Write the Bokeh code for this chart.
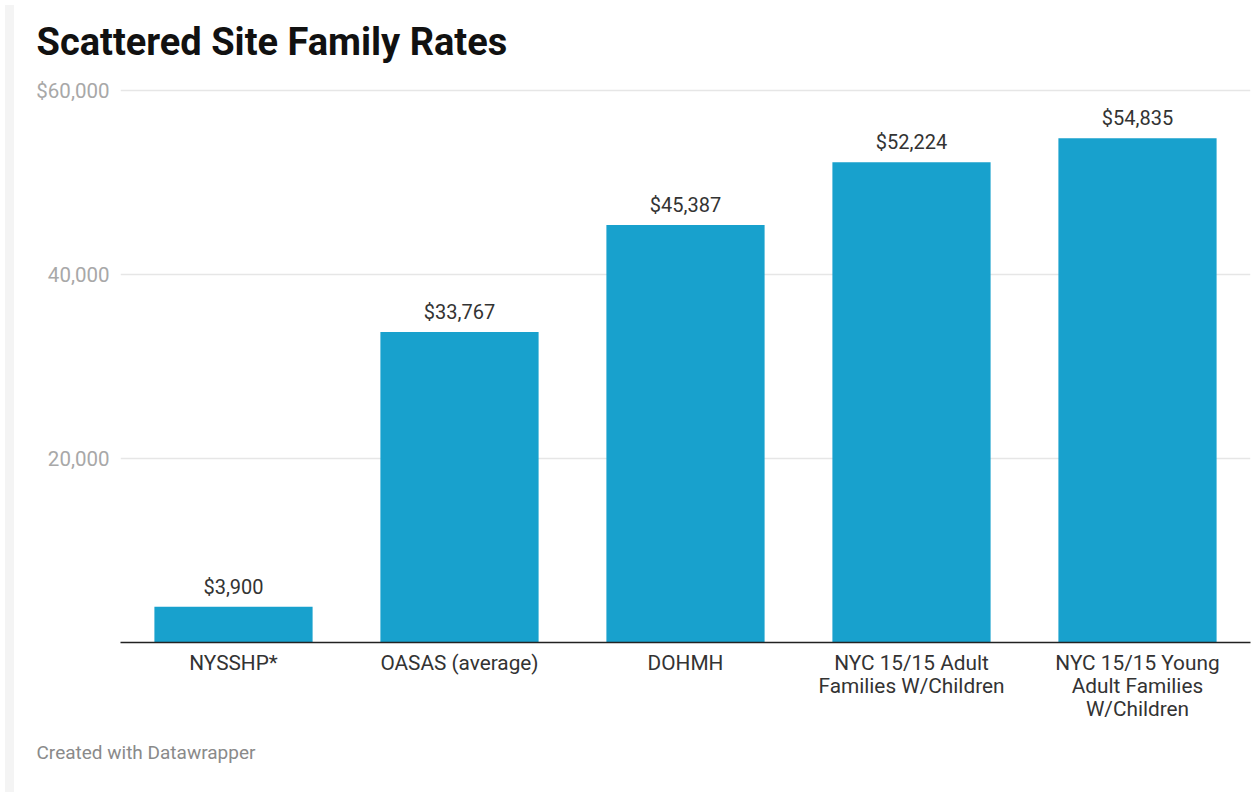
from bokeh.plotting import figure
from bokeh.models import FactorRange, Range1d, FixedTicker, Title, ColumnDataSource, Div
from bokeh.layouts import row
from bokeh.embed import file_html
from bokeh.resources import INLINE
from bokeh.core.properties import value

categories = ["NYSSHP*", "OASAS (average)", "DOHMH",
              "NYC 15/15 Adult\nFamilies W/Children",
              "NYC 15/15 Young\nAdult Families\nW/Children"]
rates = [3900, 33767, 45387, 52224, 54835]
y_ticks = [20000, 40000, 60000]
y_tick_labels = ["20,000", "40,000", "$60,000"]

FONT = "Roboto"
BAR_COLOR = "#18a1cd"

source = ColumnDataSource(dict(
    cat=categories,
    val=rates,
    lab=["${:,}".format(v) for v in rates],
))

p = figure(
    x_range=FactorRange(factors=categories, range_padding=0),
    y_range=Range1d(0, 61000),
    width=1238, height=787,
    output_backend="svg", toolbar_location=None,
    min_border_left=101, min_border_right=7, min_border_top=73, min_border_bottom=145,
    background_fill_color="white", border_fill_color="white",
    outline_line_color=None,
)

p.vbar(x="cat", top="val", width=0.7, source=source,
       fill_color=BAR_COLOR, line_color=None)

p.text(x="cat", y="val", text="lab", source=source,
       text_font=value(FONT), text_font_size="20px", text_color="#333333",
       text_align="center", text_baseline="middle", y_offset=-20)

# Title
title = Title(text="Scattered Site Family Rates", text_font=FONT,
              text_font_size="38px", text_font_style="bold",
              text_color="#111111", align="left", offset=-84, standoff=35,
              text_line_height=0.85)
p.add_layout(title, "above")

# Footer
footer = Title(text="Created with Datawrapper", text_font=FONT,
               text_font_size="19px", text_font_style="normal",
               text_color="#8a8a8a", align="left", offset=-84, standoff=35,
               vertical_align="top")
p.add_layout(footer, "below")

# y axis
p.yaxis.ticker = FixedTicker(ticks=y_ticks)
p.yaxis.major_label_overrides = {t: l for t, l in zip(y_ticks, y_tick_labels)}
p.yaxis.axis_line_color = None
p.yaxis.major_tick_line_color = None
p.yaxis.minor_tick_line_color = None
p.yaxis.major_tick_out = 0
p.yaxis.minor_tick_out = 0
p.yaxis.major_label_text_font = FONT
p.yaxis.major_label_text_font_size = "20.5px"
p.yaxis.major_label_text_color = "#a8a8a8"
p.yaxis.major_label_standoff = 11

p.ygrid.grid_line_color = "#e6e6e6"
p.ygrid.grid_line_width = 1.5
p.xgrid.grid_line_color = None

# x axis
p.xaxis.axis_line_color = "#222222"
p.xaxis.axis_line_width = 1.5
p.xaxis.major_tick_line_color = None
p.xaxis.minor_tick_line_color = None
p.xaxis.major_tick_out = 0
p.xaxis.minor_tick_out = 0
p.xaxis.major_label_text_font = FONT
p.xaxis.major_label_text_font_size = "20.8px"
p.xaxis.major_label_text_color = "#333333"
p.xaxis.major_label_standoff = 8
p.xaxis.major_label_text_line_height = 0.96

strip = Div(width=9, height=787, styles={"background-color": "#f4f4f4"})
layout = row(strip, p)

open("out.html", "w").write(file_html(layout, INLINE))
